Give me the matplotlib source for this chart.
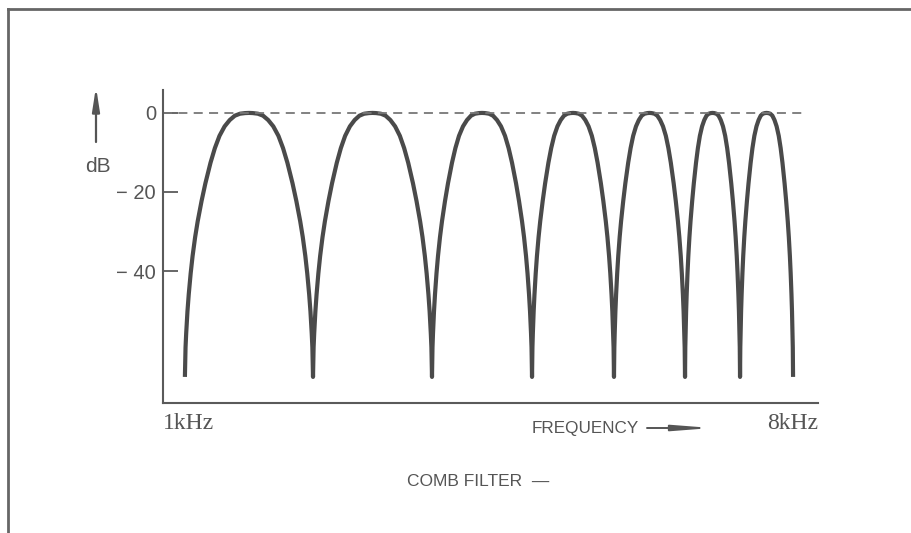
"""
Comb filter response (schematic), recreated with matplotlib
"""
import matplotlib
matplotlib.use('Agg')
import matplotlib.pyplot as plt
from matplotlib.lines import Line2D
import numpy as np

# notch frequencies (kHz)
notch_khz = [1.072, 1.610, 2.349, 3.227, 4.186, 5.245, 6.246, 7.391]

# shape of half a lobe: position within the lobe (0..0.5) and level in dB
half_pos = [0.0, 0.005, 0.01, 0.02, 0.03, 0.045, 0.06, 0.08, 0.10, 0.13, 0.16,
            0.20, 0.234, 0.27, 0.31, 0.35, 0.39, 0.43, 0.47, 0.5]
half_db = [-66.8, -59.3, -55.8, -50.2, -45.9, -40.6, -36.2, -31.4, -27.4, -22.3, -17.8,
           -12.6, -8.9, -5.8, -3.4, -1.8, -0.7, -0.2, -0.04, 0]

ytick_vals = [0, -20, -40]
ytick_text = ['0', '\u2212 20', '\u2212 40']

GREY = '#4a4a4a'
AXIS = '#5a5a5a'
TEXT = '#555555'

# full lobe = half lobe + its mirror
lobe_pos = np.array(half_pos + [1 - p for p in half_pos[-2::-1]])
lobe_db = np.array(half_db + half_db[-2::-1])

fig = plt.figure(figsize=(9.11, 5.33), dpi=100)
ax = fig.add_axes([163 / 911, 1 - 403 / 533, 655 / 911, 313 / 533])

# build the curve lobe by lobe
xs, ys = [], []
for lo, hi in zip(notch_khz[:-1], notch_khz[1:]):
    xs.extend(lo * (hi / lo) ** lobe_pos)
    ys.extend(lobe_db)
ax.plot(xs, ys, color=GREY, lw=3.0, solid_capstyle='butt', solid_joinstyle='round')

# 0 dB reference
ax.axhline(0, xmin=0, xmax=(807 - 163) / 655, color='#777777', lw=1.3,
           dashes=(5, 3.5))

ax.set_xscale('log')
ax.set_xlim(1, 8)
ax.set_ylim(-73.4, 5.8)
ax.minorticks_off()
ax.set_xticks([])

ax.spines['top'].set_visible(False)
ax.spines['right'].set_visible(False)
for s in ('left', 'bottom'):
    ax.spines[s].set_color(AXIS)
    ax.spines[s].set_linewidth(1.5)

ax.set_yticks(ytick_vals)
ax.set_yticklabels(ytick_text, fontfamily='Liberation Sans', fontsize=14.5, color=TEXT)
ax.tick_params(axis='y', direction='in', length=11, width=1.3, color=AXIS, pad=5)

# frequency labels
ax.text(1, -76.0, '1kHz', transform=ax.transData, ha='left', va='top',
        fontfamily='Liberation Serif', fontsize=17, color=TEXT)
ax.text(8, -76.0, '8kHz', transform=ax.transData, ha='right', va='top',
        fontfamily='Liberation Serif', fontsize=17, color=TEXT)

fig.text(532 / 911, 1 - 429 / 533, 'FREQUENCY', ha='left', va='center',
         fontfamily='Liberation Sans', fontsize=12.3, color=TEXT)
fig.text(407 / 911, 1 - 482 / 533, 'COMB FILTER  \u2014', ha='left', va='center',
         fontfamily='Liberation Sans', fontsize=12.5, color=TEXT)
fig.text(98 / 911, 1 - 167 / 533, 'dB', ha='center', va='center',
         fontfamily='Liberation Sans', fontsize=15, color=TEXT)

# arrows
ax.annotate('', xy=(712, 533 - 428), xytext=(647, 533 - 428),
            xycoords='figure pixels', textcoords='figure pixels',
            arrowprops=dict(arrowstyle='-|>,head_length=2.2,head_width=0.17',
                            mutation_scale=10, lw=1.4, color=TEXT,
                            shrinkA=0, shrinkB=0))
ax.annotate('', xy=(96, 533 - 87), xytext=(96, 533 - 142),
            xycoords='figure pixels', textcoords='figure pixels',
            arrowprops=dict(arrowstyle='-|>,head_length=1.4,head_width=0.22',
                            mutation_scale=10, lw=1.6, color=TEXT,
                            shrinkA=0, shrinkB=0))

# page frame
fig.add_artist(Line2D([8 / 911, 1], [1 - 9 / 533, 1 - 9 / 533], transform=fig.transFigure,
                      color='#666666', lw=2))
fig.add_artist(Line2D([8 / 911, 8 / 911], [0, 1 - 9 / 533], transform=fig.transFigure,
                      color='#666666', lw=2))

plt.savefig('out.png', dpi=100)
plt.close()
